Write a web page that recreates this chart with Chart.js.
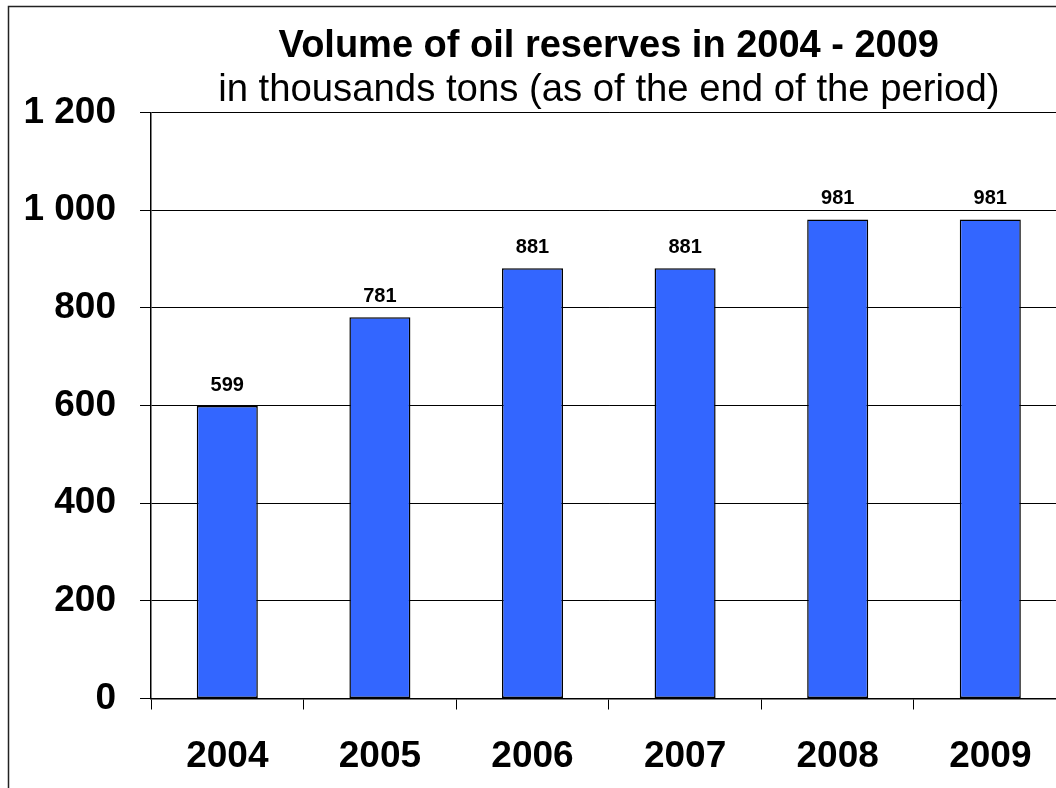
<!DOCTYPE html>
<html>
<head>
<meta charset="utf-8">
<script src="https://cdn.jsdelivr.net/npm/chart.js@4"></script>
<style>
  html, body { margin: 0; padding: 0; background: #fff; overflow: hidden; }
  #wrap { position: absolute; left: 0; top: 0; width: 1080px; height: 788px; }
</style>
</head>
<body>
<div id="wrap"><canvas id="c" width="1080" height="788"></canvas></div>
<script>
const categories = ['2004', '2005', '2006', '2007', '2008', '2009'];
const reserves = [599, 781, 881, 881, 981, 981];
const yTicks = [0, 200, 400, 600, 800, 1000, 1200];
const titleText = 'Volume of oil reserves in 2004 - 2009';
const subtitleText = 'in thousands tons (as of the end of the period)';

const FONT = "'Liberation Sans', Arial, sans-serif";

const framePlugin = {
  id: 'frame',
  beforeDraw(chart) {
    const ctx = chart.ctx;
    ctx.save();
    ctx.strokeStyle = '#222';
    ctx.lineWidth = 1.5;
    ctx.beginPath();
    ctx.moveTo(8.5, chart.height);
    ctx.lineTo(8.5, 6.5);
    ctx.lineTo(chart.width, 6.5);
    ctx.stroke();
    ctx.restore();
  }
};

const valueLabels = {
  id: 'valueLabels',
  afterDatasetsDraw(chart) {
    const ctx = chart.ctx;
    const meta = chart.getDatasetMeta(0);
    ctx.save();
    ctx.font = "bold 20px " + FONT;
    ctx.fillStyle = '#000';
    ctx.textAlign = 'center';
    ctx.textBaseline = 'alphabetic';
    meta.data.forEach((bar, i) => {
      ctx.fillText(String(chart.data.datasets[0].data[i]), bar.x, bar.y - 15);
    });
    ctx.restore();
  }
};

new Chart(document.getElementById('c'), {
  type: 'bar',
  data: {
    labels: categories,
    datasets: [{
      data: reserves,
      backgroundColor: '#3366FF',
      borderColor: '#000',
      borderWidth: 1.5,
      borderSkipped: false,
      categoryPercentage: 1,
      barPercentage: 0.4
    }]
  },
  options: {
    responsive: false,
    animation: false,
    layout: { padding: { left: 0, right: 13.4, top: 0, bottom: 0 } },
    plugins: {
      legend: { display: false },
      tooltip: { enabled: false },
      title: {
        display: true,
        text: titleText,
        fullSize: false,
        color: '#000',
        font: { family: FONT, size: 38, weight: 'bold', lineHeight: 1.1 },
        padding: { top: 26, bottom: 0 }
      },
      subtitle: {
        display: true,
        text: subtitleText,
        fullSize: false,
        color: '#000',
        font: { family: FONT, size: 38.3, weight: 'normal', lineHeight: 1.1 },
        padding: { top: 1.6, bottom: 1 }
      }
    },
    scales: {
      x: {
        afterFit(scale) { scale.height = 89.5; },
        grid: {
          display: true,
          offset: true,
          drawOnChartArea: false,
          drawTicks: true,
          tickLength: 11,
          color: '#000',
          lineWidth: 1
        },
        border: { display: true, color: '#000', width: 1.5 },
        ticks: {
          color: '#000',
          font: { family: FONT, size: 37, weight: 'bold' },
          padding: 25,
          maxRotation: 0
        }
      },
      y: {
        min: 0,
        max: 1200,
        afterFit(scale) { scale.width = 151; },
        afterBuildTicks(scale) { scale.ticks = yTicks.map(v => ({ value: v })); },
        grid: {
          display: true,
          drawTicks: true,
          tickLength: 11,
          color: '#000',
          lineWidth: 1
        },
        border: { display: true, color: '#000', width: 1.5 },
        ticks: {
          color: '#000',
          font: { family: FONT, size: 37, weight: 'bold' },
          padding: 24,
          callback: (v) => String(v).replace(/\B(?=(\d{3})+(?!\d))/g, ' ')
        }
      }
    }
  },
  plugins: [framePlugin, valueLabels]
});
</script>
</body>
</html>
